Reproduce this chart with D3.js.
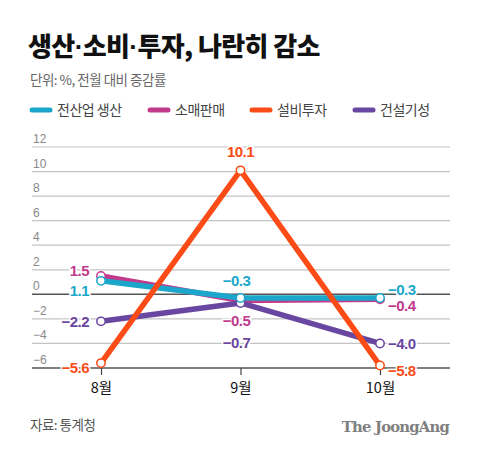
<!DOCTYPE html>
<html><head><meta charset="utf-8">
<script src="https://cdn.jsdelivr.net/npm/d3@7"></script>
<style>
html,body{margin:0;padding:0;background:#fff;}
svg{display:block;}
</style></head>
<body>
<svg id="c" width="480" height="452"></svg>
<script>
const months = ["8월", "9월", "10월"];
const seriesNames = ["전산업생산", "소매판매", "설비투자", "건설기성"];
const legendLabels = ["전산업 생산", "소매판매", "설비투자", "건설기성"];
const colors = ["#1ba7cb", "#c23a8c", "#fb4b16", "#69469f"];
const valIndustry = [1.1, -0.3, -0.3];
const valRetail = [1.5, -0.5, -0.4];
const valFacility = [-5.6, 10.1, -5.8];
const valConstruction = [-2.2, -0.7, -4.0];
const yTicks = [-6, -4, -2, 0, 2, 4, 6, 8, 10, 12];
const titleParts = ["생산", "·", "소비", "·", "투자, 나란히 감소"];

const values = [valIndustry, valRetail, valFacility, valConstruction];
const svg = d3.select("#c");
const kr = "'Noto Sans CJK KR', 'Noto Sans', sans-serif";
const num = "'Liberation Sans', Arial, sans-serif";

// Title etc
const title = svg.append("text").attr("x", 28).attr("y", 56).attr("font-family", kr).attr("font-weight", 900)
  .attr("font-size", 26).attr("fill", "#111").attr("letter-spacing", -0.6);
titleParts.forEach(p => {
  title.append("tspan").attr("font-family", p === "·" ? num : kr).text(p);
});
svg.append("text").attr("x", 30).attr("y", 85).attr("font-family", kr).attr("font-size", 13.5)
  .attr("fill", "#666").attr("letter-spacing", -0.5).text("단위: %, 전월 대비 증감률");

const legX = [30, 148, 250, 353];
legendLabels.forEach((l, i) => {
  svg.append("line").attr("x1", legX[i] + 2).attr("x2", legX[i] + 20).attr("y1", 110).attr("y2", 110)
    .attr("stroke", colors[i]).attr("stroke-width", 5).attr("stroke-linecap", "round");
  svg.append("text").attr("x", legX[i] + 27).attr("y", 115).attr("font-family", kr).attr("font-size", 14)
    .attr("fill", "#444").attr("letter-spacing", -0.5).text(l);
});

const x = d3.scalePoint().domain(months).range([101, 380]);
const y = d3.scaleLinear().domain([-6, 12]).range([368, 147]);
const left = 32, right = 450;

// Grid
const g = svg.append("g");
yTicks.forEach(t => {
  g.append("line").attr("x1", left).attr("x2", right).attr("y1", y(t)).attr("y2", y(t))
    .attr("stroke", (t === 0 || t === -6) ? "#555" : "#c4c4c4").attr("stroke-width", (t === 0 || t === -6) ? 1.5 : 1.2);
  g.append("text").attr("x", left + 1).attr("y", y(t) - 4).attr("font-family", num).attr("font-size", 12)
    .attr("fill", "#888").text(t < 0 ? "−" + Math.abs(t) : t);
});

// X axis
const xAxis = d3.axisBottom(x).tickSize(7).tickPadding(8);
const ax = svg.append("g").attr("transform", `translate(0,${y(-6)})`).call(xAxis);
ax.select(".domain").remove();
ax.selectAll(".tick line").attr("stroke", "#444").attr("stroke-width", 1.2);
ax.selectAll(".tick text").attr("font-family", kr).attr("font-size", 14.5).attr("fill", "#111");

// Lines
const line = d3.line().x((d, i) => x(months[i])).y(d => y(d));
const order = [1, 3, 0, 2];
order.forEach(si => {
  svg.append("path").datum(values[si]).attr("d", line).attr("fill", "none")
    .attr("stroke", colors[si]).attr("stroke-width", 5.5).attr("stroke-linejoin", "round");
});
order.forEach(si => {
  svg.selectAll(null).data(values[si]).enter().append("circle")
    .attr("cx", (d, i) => x(months[i])).attr("cy", d => y(d)).attr("r", 4.2)
    .attr("fill", "#fff").attr("stroke", colors[si]).attr("stroke-width", 1.5);
});

// Value labels
const fmt = v => (v < 0 ? "−" : "") + Math.abs(v).toFixed(1);
const labelPos = [
  [1, 0, -12, 1.9, "end"],
  [0, 0, -12, 0.3, "end"],
  [3, 0, -12, -2.2, "end"],
  [2, 0, -12, -6.0, "end"],
  [2, 1, 0, 11.6, "middle"],
  [0, 1, -4, 1.1, "middle"],
  [1, 1, -4, -2.1, "middle"],
  [3, 1, -4, -3.9, "middle"],
  [0, 2, 8, 0.35, "start"],
  [1, 2, 8, -0.9, "start"],
  [3, 2, 8, -4.0, "start"],
  [2, 2, 8, -6.2, "start"]
];
labelPos.forEach(([si, mi, dx, yv, anchor]) => {
  svg.append("text").attr("x", x(months[mi]) + dx).attr("y", y(yv)).attr("dy", "0.36em")
    .attr("text-anchor", anchor).attr("font-family", num).attr("font-weight", "bold").attr("font-size", 15)
    .attr("fill", colors[si]).attr("stroke", "#fff").attr("stroke-width", 3).attr("paint-order", "stroke")
    .attr("letter-spacing", -0.5).text(fmt(values[si][mi]));
});

// Footer
svg.append("text").attr("x", 30).attr("y", 430).attr("font-family", kr).attr("font-size", 13.5)
  .attr("fill", "#555").attr("letter-spacing", -0.5).text("자료: 통계청");
svg.append("text").attr("x", 449).attr("y", 432).attr("text-anchor", "end")
  .attr("font-family", "'DejaVu Serif', 'Liberation Serif', serif").attr("font-weight", "bold")
  .attr("font-size", 14.8).attr("fill", "#808080").attr("letter-spacing", -0.8).text("The JoongAng");
</script>
</body></html>
